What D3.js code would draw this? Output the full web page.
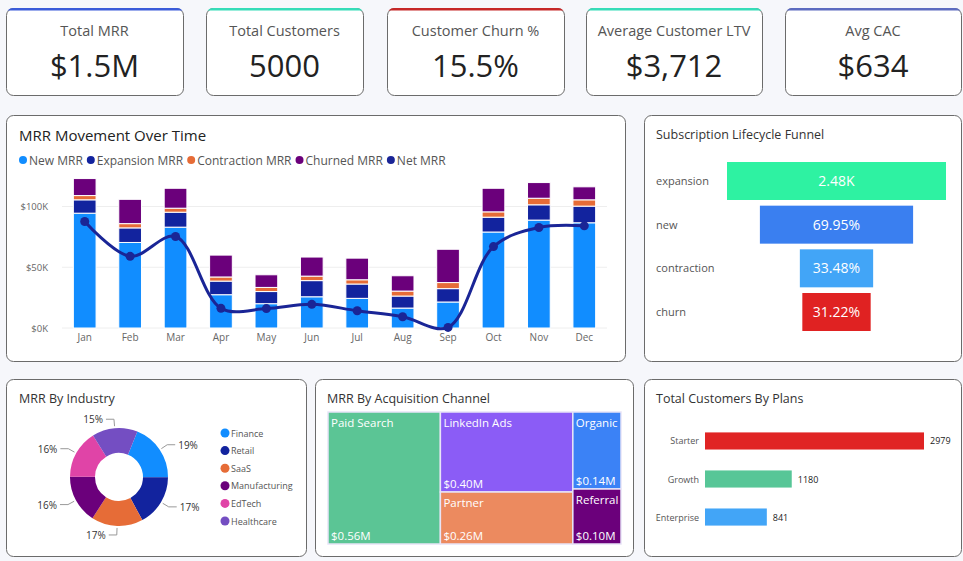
<!DOCTYPE html>
<html>
<head>
<meta charset="utf-8">
<title>SaaS MRR Dashboard</title>
<script src="https://cdn.jsdelivr.net/npm/d3@7"></script>
<style>
body { margin:0; background:#f6f7fb; font-family:"Open Sans","Segoe UI",sans-serif; }
svg text { font-family:"Open Sans","Segoe UI",sans-serif; }
</style>
</head>
<body>
<svg id="dash" width="963" height="561"></svg>
<script>
// kpi cards
var kpiTitles = ["Total MRR","Total Customers","Customer Churn %","Average Customer LTV","Avg CAC"];
var kpiValues = ["$1.5M","5000","15.5%","$3,712","$634"];
var kpiColors = ["#3a5bd9","#35dcb8","#c62828","#35dcb8","#5c6bc0"];

// mrr movement (in $K)
var months = ["Jan","Feb","Mar","Apr","May","Jun","Jul","Aug","Sep","Oct","Nov","Dec"];
var newMRR = [94.5,70.4,83,27.4,20,25.7,24.4,16.4,21.4,79,88.8,86.6];
var expansionMRR = [11,12,12.3,11.2,10,13.3,11.8,9.9,11,12.2,12.6,13.7];
var contractionMRR = [3.5,3.5,3.3,3.4,3.4,3.7,3.5,4.1,5,4.4,5.4,5.2];
var churnedMRR = [14,20,16.4,18,10.4,15.7,17.8,12.6,27.4,19.4,12.9,10.7];
var netMRR = [87.7,59,75.3,16.2,16,19.5,14.2,9.3,0.5,67,82.7,84.1];
var mrrSeries = ["New MRR","Expansion MRR","Contraction MRR","Churned MRR","Net MRR"];
var mrrColors = ["#118dff","#12239e","#e66c37","#6b007b","#1a2596"];
var yTicks = [0,50,100];

// funnel
var funnelStages = ["expansion","new","contraction","churn"];
var funnelValues = [2480,1735,830,774];
var funnelLabels = ["2.48K","69.95%","33.48%","31.22%"];
var funnelColors = ["#2ef2a2","#3a7ff0","#42a5f7","#e02222"];

// industry
var industries = ["Finance","Retail","SaaS","Manufacturing","EdTech","Healthcare"];
var industryShare = [19,17,17,16,16,15];
var industryColors = ["#118dff","#12239e","#e66c37","#6b007b","#e044a7","#744ec2"];

// acquisition channel ($M)
var channels = ["Paid Search","LinkedIn Ads","Partner","Organic","Referral"];
var channelMRR = [0.56,0.40,0.26,0.14,0.10];
var channelGroup = [0,1,1,2,2];
var channelColors = ["#5bc595","#8b5cf6","#ec8a5f","#3b82f6","#6b007b"];

// plans
var plans = ["Starter","Growth","Enterprise"];
var planCustomers = [2979,1180,841];
var planColors = ["#e02424","#57c697","#42a5f7"];

var svg = d3.select("#dash");

function card(x,y,w,h){
  svg.append("rect").attr("x",x+0.5).attr("y",y+0.5).attr("width",w).attr("height",h)
     .attr("rx",7).attr("fill","#fff").attr("stroke","#6b6b6b").attr("stroke-width",1);
}
function title(x,y,t){
  svg.append("text").attr("x",x).attr("y",y).attr("font-size",12.5).attr("font-weight",500)
     .attr("fill","#333").text(t);
}

// ---- KPI cards
var kpiX = [6,206,387,586,785], kpiW = [177,157,177,176,176];
kpiTitles.forEach(function(t,i){
  var x = kpiX[i], w = kpiW[i];
  card(x,8,w,87);
  var clip = "clip"+i;
  svg.append("clipPath").attr("id",clip).append("rect").attr("x",x).attr("y",8).attr("width",w+1).attr("height",88).attr("rx",7);
  svg.append("rect").attr("x",x).attr("y",7).attr("width",w+1).attr("height",3.5)
     .attr("fill",kpiColors[i]).attr("clip-path","url(#"+clip+")");
  svg.append("text").attr("x",x+w/2).attr("y",36).attr("text-anchor","middle")
     .attr("font-size",14.5).attr("fill","#555").text(t);
  svg.append("text").attr("x",x+w/2).attr("y",77).attr("text-anchor","middle")
     .attr("font-size",31).attr("font-weight",500).attr("fill","#222").text(kpiValues[i]);
});

// ---- MRR movement
card(6,115,619,246);
svg.append("text").attr("x",19).attr("y",141).attr("font-size",15).attr("font-weight",500)
   .attr("fill","#222").text("MRR Movement Over Time");
var lx = 19;
mrrSeries.forEach(function(s,i){
  svg.append("circle").attr("cx",lx+4).attr("cy",160).attr("r",4).attr("fill",mrrColors[i]);
  var t = svg.append("text").attr("x",lx+10).attr("y",164.5).attr("font-size",12).attr("fill","#555").text(s);
  lx += t.node().getComputedTextLength()+14;
});
var x = d3.scaleBand().domain(months).range([62,607]).paddingInner(0.5).paddingOuter(0.25);
var y = d3.scaleLinear().domain([0,100]).range([328,206.5]);
var g = svg.append("g");
g.selectAll(".grid").data(yTicks).join("line").attr("x1",62).attr("x2",607)
  .attr("y1",function(d){return y(d);}).attr("y2",function(d){return y(d);})
  .attr("stroke","#eee");
g.selectAll(".yl").data(yTicks).join("text").attr("x",48).attr("y",function(d){return y(d)+3.5;})
  .attr("text-anchor","end").attr("font-size",9.5).attr("fill","#666").text(function(d){return "$"+d+"K";});
var stackRows = months.map(function(m,i){
  return {m:m, a:newMRR[i], b:expansionMRR[i], c:contractionMRR[i], d:churnedMRR[i]};
});
var stack = d3.stack().keys(["a","b","c","d"])(stackRows);
stack.forEach(function(layer,k){
  g.selectAll(".s"+k).data(layer).join("rect")
    .attr("x",function(d){return x(d.data.m);}).attr("width",x.bandwidth())
    .attr("y",function(d){return y(d[1]);}).attr("height",function(d){return y(d[0])-y(d[1]);})
    .attr("fill",mrrColors[k]).attr("stroke","#fff").attr("stroke-width",1);
});
var xAxis = svg.append("g").attr("transform","translate(0,328)")
  .call(d3.axisBottom(x).tickSize(0).tickPadding(6));
xAxis.select(".domain").remove();
xAxis.selectAll("text").attr("font-size",10).attr("fill","#666");
var line = d3.line().x(function(d,i){return x(months[i])+x.bandwidth()/2;})
  .y(function(d){return y(d);}).curve(d3.curveCatmullRom.alpha(0.5));
svg.append("path").datum(netMRR).attr("d",line).attr("fill","none")
  .attr("stroke",mrrColors[4]).attr("stroke-width",3);
svg.selectAll(".dot").data(netMRR).join("circle")
  .attr("cx",function(d,i){return x(months[i])+x.bandwidth()/2;})
  .attr("cy",function(d){return y(d);}).attr("r",4.5).attr("fill",mrrColors[4]);

// ---- Funnel
card(644,115,317,246);
title(656,139,"Subscription Lifecycle Funnel");
var fw = d3.scaleLinear().domain([0,d3.max(funnelValues)]).range([0,219]);
var fy = d3.scaleBand().domain(funnelStages).range([162,331]).paddingInner(0.13);
funnelStages.forEach(function(s,i){
  var w = fw(funnelValues[i]);
  svg.append("rect").attr("x",836.5-w/2).attr("y",fy(s)).attr("width",w).attr("height",fy.bandwidth())
     .attr("fill",funnelColors[i]);
  svg.append("text").attr("x",836.5).attr("y",fy(s)+fy.bandwidth()/2+5).attr("text-anchor","middle")
     .attr("font-size",14).attr("fill","#fff").text(funnelLabels[i]);
  svg.append("text").attr("x",656).attr("y",fy(s)+fy.bandwidth()/2+4).attr("font-size",11)
     .attr("fill","#555").text(s);
});

// ---- Industry donut
card(6,379,300,177);
title(19,403,"MRR By Industry");
var pie = d3.pie().sort(null).startAngle(22*Math.PI/180).endAngle(22*Math.PI/180+2*Math.PI);
var arcs = pie(industryShare);
var arc = d3.arc().innerRadius(24).outerRadius(49);
var dg = svg.append("g").attr("transform","translate(119,477)");
dg.selectAll("path").data(arcs).join("path").attr("d",arc)
  .attr("fill",function(d,i){return industryColors[i];});
arcs.forEach(function(d){
  var a = (d.startAngle+d.endAngle)/2;
  var sx = Math.sin(a), sy = -Math.cos(a);
  var p1 = [sx*51, sy*51], p2 = [sx*58, sy*58];
  var right = sx >= 0;
  var p3 = [p2[0]+(right?8:-8), p2[1]];
  dg.append("polyline").attr("points",[p1,p2,p3].map(function(p){return p.join(",");}).join(" "))
    .attr("fill","none").attr("stroke","#999");
  dg.append("text").attr("x",p3[0]+(right?3:-3)).attr("y",p3[1]+4)
    .attr("text-anchor",right?"start":"end").attr("font-size",10).attr("fill","#333")
    .text(d.data+"%");
});
industries.forEach(function(n,i){
  svg.append("circle").attr("cx",225).attr("cy",433+i*17.6).attr("r",4.5).attr("fill",industryColors[i]);
  svg.append("text").attr("x",231).attr("y",436.5+i*17.6).attr("font-size",9).attr("fill","#555").text(n);
});

// ---- Treemap
card(315,379,318,177);
title(327,403,"MRR By Acquisition Channel");
var groups = [0,1,2].map(function(gi){
  return {children: channels.map(function(c,i){return {name:c,value:channelMRR[i],idx:i,grp:channelGroup[i]};})
    .filter(function(c){return c.grp===gi;})};
});
var root = d3.hierarchy({children:groups}).sum(function(d){return d.value||0;});
d3.treemap().tile(d3.treemapSliceDice).size([293,132])(root);
var tg = svg.append("g").attr("transform","translate(328,412)");
root.leaves().forEach(function(l){
  var d = l.data;
  tg.append("rect").attr("x",l.x0).attr("y",l.y0).attr("width",l.x1-l.x0).attr("height",l.y1-l.y0)
    .attr("fill",channelColors[d.idx]).attr("stroke","#e8e4f7").attr("stroke-width",1.5);
  tg.append("text").attr("x",l.x0+3).attr("y",l.y0+15).attr("font-size",11.5).attr("fill","#fff").text(d.name);
  tg.append("text").attr("x",l.x0+3).attr("y",l.y1-4).attr("font-size",11.5).attr("fill","#fff")
    .text("$"+d.value.toFixed(2)+"M");
});

// ---- Plans bars
card(644,379,317,177);
title(656,403,"Total Customers By Plans");
var px = d3.scaleLinear().domain([0,d3.max(planCustomers)]).range([0,219]);
var py = d3.scaleBand().domain(plans).range([421,537]).paddingInner(0.55).paddingOuter(0.3);
plans.forEach(function(p,i){
  svg.append("rect").attr("x",705).attr("y",py(p)).attr("width",px(planCustomers[i])).attr("height",py.bandwidth())
     .attr("fill",planColors[i]);
  svg.append("text").attr("x",699).attr("y",py(p)+py.bandwidth()/2+3.5).attr("text-anchor","end")
     .attr("font-size",9).attr("fill","#555").text(p);
  svg.append("text").attr("x",705+px(planCustomers[i])+6).attr("y",py(p)+py.bandwidth()/2+3.5)
     .attr("font-size",9).attr("fill","#222").text(planCustomers[i]);
});
</script>
</body>
</html>
